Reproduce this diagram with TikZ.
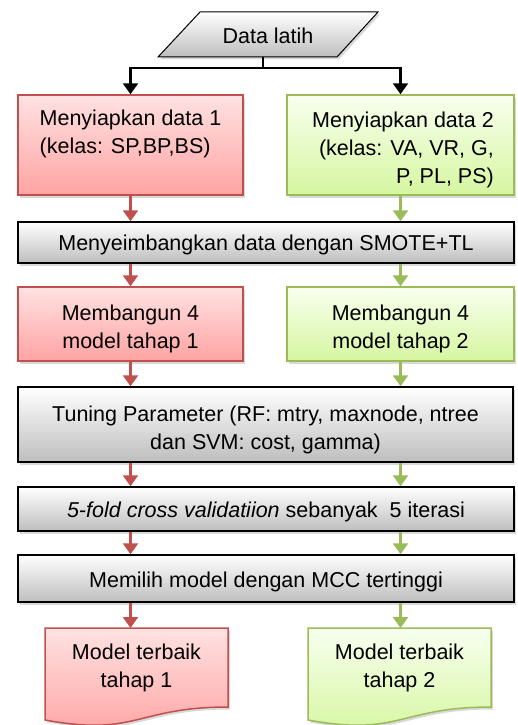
\documentclass[tikz,border=0pt]{standalone}
\usepackage{fontspec}
\setmainfont{Liberation Sans}
\usetikzlibrary{arrows.meta,shadows,calc}
\definecolor{redb}{HTML}{C0504D}
\definecolor{redt}{HTML}{FFE2E2}
\definecolor{redbot}{HTML}{FFA3A3}
\definecolor{grnb}{HTML}{9BBB59}
\definecolor{grnt}{HTML}{F8FFEF}
\definecolor{grnbot}{HTML}{D6F6A0}
\definecolor{grybot}{HTML}{BEBEBE}
\begin{document}
\begin{tikzpicture}[x=1pt,y=-1pt,
  font=\fontsize{21.5}{28}\selectfont,
  shad/.style={drop shadow={opacity=0.3,shadow xshift=2pt,shadow yshift=-2.5pt}},
  redbox/.style={draw=redb,line width=1.5pt,top color=redt,bottom color=redbot,inner sep=0pt,shad},
  grnbox/.style={draw=grnb,line width=1.5pt,top color=grnt,bottom color=grnbot,inner sep=0pt,shad},
  graybox/.style={draw=black,line width=1.5pt,top color=white,bottom color=grybot,inner sep=0pt,shad},
  redarr/.style={draw=redb,line width=2.5pt,-{Triangle[width=15pt,length=11pt]}},
  grnarr/.style={draw=grnb,line width=2.5pt,-{Triangle[width=15pt,length=11pt]}},
  blkline/.style={draw=black,line width=2.5pt},
  blkarr/.style={draw=black,line width=2.5pt,-{Triangle[width=15pt,length=11pt]}},
  txt/.style={align=center,inner sep=0pt}
]
\useasboundingbox (0,0) rectangle (517,725);

% input parallelogram
\path[draw=black,line width=1pt,top color=white,bottom color=grybot,shad]
  (200,12) -- (378,12) -- (337,57) -- (158,57) -- cycle;
\node[txt] (data) at (268,36) {Data latih};
\coordinate (dbot) at (263,57);
\coordinate (split) at (263,68);

% stage 1 / 2 preparation
\node[redbox,minimum width=225,minimum height=100] (r1) at (130.5,145) {};
\node[txt,align=left,yshift=-5pt] (r1t) at (r1.center)
  {Menyiapkan data 1\\(kelas: SP,BP,BS)\\\strut};
\node[grnbox,minimum width=227,minimum height=100] (g1) at (400.5,145) {};
\node[txt,align=right,yshift=-5pt] (g1t) at (403,145)
  {Menyiapkan data 2\\(kelas: VA, VR, G,\\P, PL, PS)};

\node[graybox,minimum width=496,minimum height=41] (smote) at (266,242.5) {};
\node[txt,yshift=-2pt] (smotet) at (smote.center) {Menyeimbangkan data dengan SMOTE+TL};

\node[redbox,minimum width=225,minimum height=74] (r2) at (130.5,324) {};
\node[txt,yshift=-4.5pt] (r2t) at (r2.center) {Membangun 4\\model tahap 1};
\node[grnbox,minimum width=227,minimum height=74] (g2) at (400.5,324) {};
\node[txt,yshift=-4.5pt] (g2t) at (g2.center) {Membangun 4\\model tahap 2};

\node[graybox,minimum width=495,minimum height=75] (tune) at (265.5,424.5) {};
\node[txt,yshift=-5pt] (tunet) at (tune.center)
  {Tuning Parameter (RF: mtry, maxnode, ntree\\dan SVM: cost, gamma)};

\node[graybox,minimum width=496,minimum height=44] (cv) at (266,509) {};
\node[txt,yshift=-3pt] (cvt) at (cv.center)
  {\textit{5-fold cross validatiion} sebanyak\ \ 5 iterasi};

\node[graybox,minimum width=496,minimum height=47] (mcc) at (266,578.5) {};
\node[txt,yshift=-3.5pt] (mcct) at (mcc.center) {Memilih model dengan MCC tertinggi};

% documents
\path[draw=redb,line width=1.5pt,top color=redt,bottom color=redbot,shad]
  (45,628) -- (228,628) -- (228,707)
  .. controls (136.5,707) and (136.5,737) .. (45,720) -- cycle;
\node[txt] (r3) at (136.5,668) {Model terbaik\\tahap 1};
\coordinate (r3top) at (130.5,628);
\path[draw=grnb,line width=1.5pt,top color=grnt,bottom color=grnbot,shad]
  (308,628) -- (491,628) -- (491,707)
  .. controls (399.5,707) and (399.5,737) .. (308,720) -- cycle;
\node[txt] (g3) at (399.5,668) {Model terbaik\\tahap 2};
\coordinate (g3top) at (400.5,628);

% connectors
\draw[blkline] (dbot) -- (split);
\draw[blkarr] (split) -| (r1.north);
\draw[blkarr] (split) -| (g1.north);

\draw[redarr] (r1.south) -- (smote.north -| r1.south);
\draw[grnarr] (g1.south) -- (smote.north -| g1.south);
\draw[redarr] (smote.south -| r2.north) -- (r2.north);
\draw[grnarr] (smote.south -| g2.north) -- (g2.north);
\draw[redarr] (r2.south) -- (tune.north -| r2.south);
\draw[grnarr] (g2.south) -- (tune.north -| g2.south);
\draw[redarr] (tune.south -| r2.south) -- (cv.north -| r2.south);
\draw[grnarr] (tune.south -| g2.south) -- (cv.north -| g2.south);
\draw[redarr] (cv.south -| r2.south) -- (mcc.north -| r2.south);
\draw[grnarr] (cv.south -| g2.south) -- (mcc.north -| g2.south);
\draw[redarr] (mcc.south -| r3top) -- (r3top);
\draw[grnarr] (mcc.south -| g3top) -- (g3top);
\end{tikzpicture}
\end{document}
